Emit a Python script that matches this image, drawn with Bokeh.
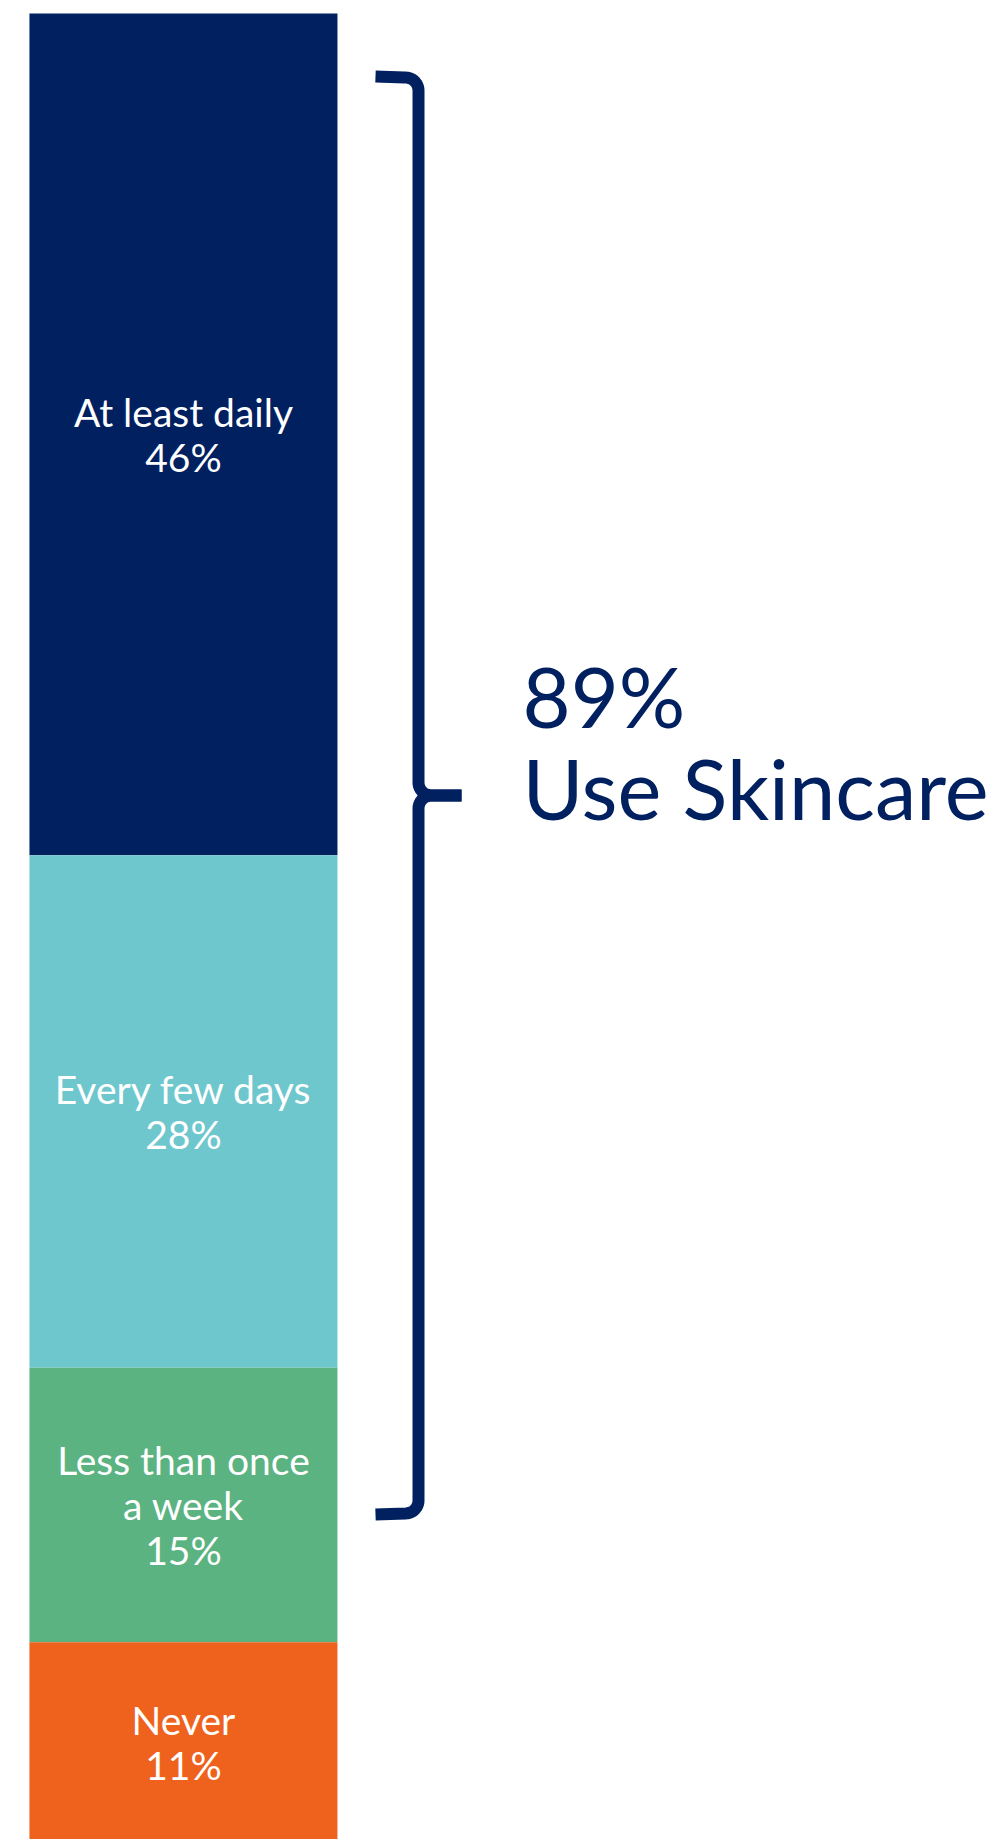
import numpy as np
from bokeh.plotting import figure
from bokeh.models import Range1d, ColumnDataSource
from bokeh.core.properties import value
from bokeh.embed import file_html
from bokeh.resources import INLINE

# ---- data ----
categories = ["At least daily", "Every few days", "Less than once a week", "Never"]
display_labels = ["At least daily", "Every few days", "Less than once\na week", "Never"]
shares = [46, 28, 15, 11]
colors = ["#002060", "#6FC7CE", "#5BB381", "#EF621D"]
total_label = "89%"
total_caption = "Use Skincare"

# ---- stacking (top category first, stacked from the bottom) ----
bottoms = []
acc = 0
for v in reversed(shares):
    bottoms.append(acc)
    acc += v
bottoms = list(reversed(bottoms))
tops = [b + v for b, v in zip(bottoms, shares)]

W, H = 993, 1839
p = figure(width=W, height=H, output_backend="svg", toolbar_location=None,
           x_range=Range1d(-0.594, 2.630), y_range=Range1d(0.22, 100.71),
           min_border=0, min_border_left=0, min_border_right=0,
           min_border_top=0, min_border_bottom=0)
p.axis.visible = False
p.grid.visible = False
p.outline_line_color = None
p.background_fill_color = "white"
p.border_fill_color = "white"

src = ColumnDataSource(dict(x=[0] * len(shares), bottom=bottoms, top=tops,
                            color=colors, cat=categories))
p.vbar(x="x", bottom="bottom", top="top", width=1, fill_color="color",
       line_color=None, source=src)

# labels inside segments
FONT = "Lato"
tx, ty, tt, toff = [], [], [], []
LINE = 45
for lab, b, v in zip(display_labels, bottoms, shares):
    lines = lab.split("\n") + [f"{v}%"]
    n = len(lines)
    for i, ln in enumerate(lines):
        tx.append(0)
        ty.append(b + v / 2)
        tt.append(ln)
        toff.append((i - (n - 1) / 2) * LINE)
lsrc = ColumnDataSource(dict(x=tx, y=ty, text=tt, off=toff))
p.text(x="x", y="y", text="text", y_offset="off", source=lsrc,
       text_color="white", text_font=value(FONT), text_font_size="39px",
       text_align="center", text_baseline="middle")

# pixel-space ranges for the brace and callout text
p.extra_x_ranges = {"px": Range1d(0, W)}
p.extra_y_ranges = {"py": Range1d(H, 0)}

def arc(cx, cy, r, a0, a1, n=12):
    t = np.linspace(a0, a1, n)
    return list(cx + r * np.cos(t)), list(cy + r * np.sin(t))

xv = 418
r = 13
# upper half: top end -> tip
xs1 = [375, 404]
ys1 = [76, 77]
ax, ay = arc(xv - r, 77 + r, r, -np.pi / 2, 0)
xs1 += ax; ys1 += ay
xs1 += [xv]; ys1 += [795 - r]
ax, ay = arc(xv + r, 795 - r, r, np.pi, np.pi / 2)
xs1 += ax; ys1 += ay
xs1 += [461]; ys1 += [795]
# lower half: tip -> bottom end
xs2 = [461, xv + r]
ys2 = [795, 795]
ax, ay = arc(xv + r, 795 + r, r, -np.pi / 2, -np.pi)
xs2 += ax; ys2 += ay
xs2 += [xv]; ys2 += [1513 - r]
ax, ay = arc(xv - r, 1513 - r, r, 0, np.pi / 2)
xs2 += ax; ys2 += ay
xs2 += [375]; ys2 += [1514]

p.multi_line(xs=[xs1, xs2], ys=[ys1, ys2], line_color="#002060", line_width=12,
             line_join="round", x_range_name="px", y_range_name="py")

p.text(x=[522, 522], y=[695, 787], text=[total_label, total_caption],
       x_range_name="px", y_range_name="py", text_color="#002060",
       text_font=value(FONT), text_font_size="83px",
       text_align="left", text_baseline="alphabetic")

open("out.html", "w").write(file_html(p, INLINE))
